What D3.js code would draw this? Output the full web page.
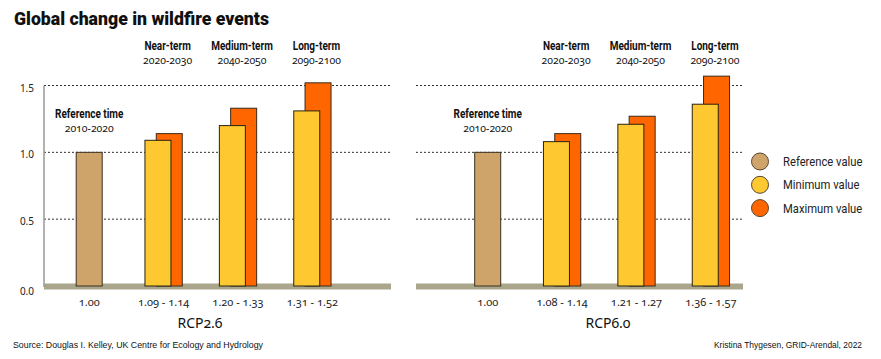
<!DOCTYPE html>
<html><head><meta charset="utf-8">
<script src="https://cdn.jsdelivr.net/npm/d3@7"></script>
<style>
body{margin:0;background:#fff;}
svg{display:block;}
.cond{font-family:"Roboto","Noto Sans",sans-serif;}
.hum{font-family:"Noto Sans","Open Sans",sans-serif;}
.ar{font-family:"Liberation Sans",Arial,sans-serif;}
</style></head>
<body><svg id="c" width="881" height="359"></svg>
<script>
// ---------- data ----------
const title = "Global change in wildfire events";
const categories = ["ref", "near", "medium", "long"];
const periodNames = ["Reference time", "Near-term", "Medium-term", "Long-term"];
const periodYears = ["2010-2020", "2020-2030", "2040-2050", "2090-2100"];
const scenarios = ["RCP2.6", "RCP6.0"];
const referenceValue = [1.00, 1.00];
const minRCP26 = [1.09, 1.20, 1.31];
const maxRCP26 = [1.14, 1.33, 1.52];
const minRCP60 = [1.08, 1.21, 1.36];
const maxRCP60 = [1.14, 1.27, 1.57];
const yTicks = [0.0, 0.5, 1.0, 1.5];
const legendLabels = ["Reference value", "Minimum value", "Maximum value"];
const source = "Source: Douglas I. Kelley, UK Centre for Ecology and Hydrology";
const credit = "Kristina Thygesen, GRID-Arendal, 2022";

// ---------- styles ----------
const colRef = "#cfa46b", colMin = "#fec830", colMax = "#ff6600";
const colGround = "#a9a68b";

const svg = d3.select("#c");
const y = d3.scaleLinear().domain([0, 1.5]).range([286, 85.5]);
const x = d3.scaleBand().domain(categories).range([52, 349.6]).padding(0);
const barW = 26, maxOff = 11.3;

// horizontally condensed text helper
function ctext(g, tx, ty, str, size, weight, anchor, sx, cls) {
  return g.append("text").attr("class", cls || "cond")
    .attr("transform", `translate(${tx},${ty}) scale(${sx},1)`)
    .attr("text-anchor", anchor).attr("font-size", size).attr("font-weight", weight)
    .attr("fill", "#111").text(str);
}

svg.append("text").attr("class","cond").attr("x",14).attr("y",25)
  .attr("font-size",17.5).attr("font-weight",900).attr("fill","#111")
  .attr("textLength",255).attr("lengthAdjust","spacingAndGlyphs").text(title);

const panels = [
  {name: scenarios[0], off: 0, x0: 44, x1: 391, ref: referenceValue[0], mins: minRCP26, maxs: maxRCP26, axis: true, lab: 200},
  {name: scenarios[1], off: 398.5, x0: 416, x1: 743, ref: referenceValue[1], mins: minRCP60, maxs: maxRCP60, axis: false, lab: 608}
];

panels.forEach(p => {
  const g = svg.append("g");
  const cx = c => p.off + x(c) + x.bandwidth()/2;
  yTicks.filter(t => t > 0).forEach(t => {
    g.append("line").attr("x1", p.x0).attr("x2", p.x1).attr("y1", y(t)).attr("y2", y(t))
      .attr("stroke","#333").attr("stroke-width",1).attr("stroke-dasharray","2,2");
  });
  g.append("rect").attr("x", p.x0).attr("y", y(0) - 2.5).attr("width", p.x1 - p.x0).attr("height", 6)
    .attr("fill", colGround);
  if (p.axis) {
    g.append("line").attr("x1", p.x0).attr("x2", p.x0).attr("y1", y(1.5)).attr("y2", y(0)+1)
      .attr("stroke","#999").attr("stroke-width",1.5);
    yTicks.forEach(t => {
      g.append("text").attr("class","hum").attr("x", 34).attr("y", y(t) + (t===0?9:6))
        .attr("text-anchor","end").attr("font-size",10).attr("fill","#222").text(t.toFixed(1));
    });
  }
  g.append("rect").attr("x", cx("ref") - barW/2).attr("y", y(p.ref)).attr("width", barW)
    .attr("height", y(0) - y(p.ref)).attr("fill", colRef).attr("stroke","#3a3020").attr("stroke-width",1);
  categories.slice(1).forEach((c, i) => {
    const center = cx(c);
    const left = center - (barW + maxOff)/2;
    g.append("rect").attr("x", left + maxOff).attr("y", y(p.maxs[i])).attr("width", barW)
      .attr("height", y(0) - y(p.maxs[i])).attr("fill", colMax).attr("stroke","#3a2a1a").attr("stroke-width",1);
    g.append("rect").attr("x", left).attr("y", y(p.mins[i])).attr("width", barW)
      .attr("height", y(0) - y(p.mins[i])).attr("fill", colMin).attr("stroke","#2a2210").attr("stroke-width",1);
  });
  categories.forEach((c, i) => {
    const hx = cx(c) + (i === 0 ? 0 : 4);
    const hy = i === 0 ? 118 : 50;
    ctext(g, hx, hy, periodNames[i], 12.5, 700, "middle", 0.8);
    ctext(g, hx, hy + 14, periodYears[i], 11, 400, "middle", 0.95, "hum")
      .style("font-variant-numeric","oldstyle-nums");
  });
  categories.forEach((c, i) => {
    const txt = i === 0 ? p.ref.toFixed(2) : p.mins[i-1].toFixed(2) + " - " + p.maxs[i-1].toFixed(2);
    g.append("text").attr("class","hum").attr("x", cx(c)).attr("y", 306).attr("text-anchor","middle")
      .attr("font-size",11).attr("fill","#222").style("font-variant-numeric","oldstyle-nums").text(txt);
  });
  g.append("text").attr("class","hum").attr("x", p.lab).attr("y", 328).attr("text-anchor","middle")
    .attr("font-size",14).attr("fill","#111").style("font-variant-numeric","oldstyle-nums").text(p.name);
});

const lg = svg.append("g");
[colRef, colMin, colMax].forEach((col, i) => {
  const ly = 161.5 + i * 23.3;
  lg.append("circle").attr("cx", 760).attr("cy", ly).attr("r", 8.5).attr("fill", col)
    .attr("stroke","#5a4530").attr("stroke-width",1);
  ctext(lg, 783, ly + 4.5, legendLabels[i], 12.5, 400, "start", 0.9).attr("fill","#222");
});

svg.append("text").attr("class","ar").attr("x",13).attr("y",348).attr("font-size",9)
  .attr("fill","#111").attr("textLength",250).attr("lengthAdjust","spacingAndGlyphs").text(source);
svg.append("text").attr("class","ar").attr("x",862).attr("y",348).attr("text-anchor","end")
  .attr("font-size",9).attr("fill","#111").attr("textLength",148).attr("lengthAdjust","spacingAndGlyphs").text(credit);
</script></body></html>
